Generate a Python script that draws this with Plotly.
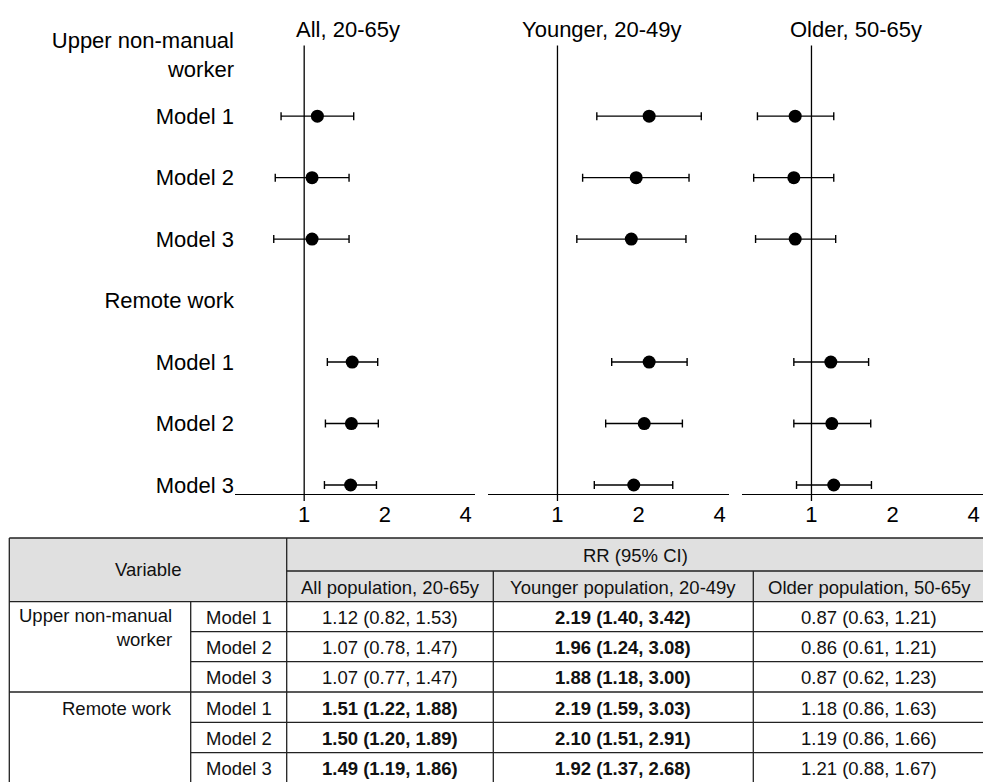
import plotly.graph_objects as go

# ---------------- data ----------------
row_labels = ["Upper non-manual<br>worker", "Model 1", "Model 2", "Model 3",
              "Remote work", "Model 1", "Model 2", "Model 3"]
groups = ["Upper non-manual<br>worker", "Remote work"]
models = ["Model 1", "Model 2", "Model 3"]
panel_titles = ["All, 20-65y", "Younger, 20-49y", "Older, 50-65y"]
table_cols = ["All population, 20-65y", "Younger population, 20-49y", "Older population, 50-65y"]
x_ticks = [1, 2, 4]

all_rr = [1.12, 1.07, 1.07, 1.51, 1.50, 1.49]
all_lo = [0.82, 0.78, 0.77, 1.22, 1.20, 1.19]
all_hi = [1.53, 1.47, 1.47, 1.88, 1.89, 1.86]

young_rr = [2.19, 1.96, 1.88, 2.19, 2.10, 1.92]
young_lo = [1.40, 1.24, 1.18, 1.59, 1.51, 1.37]
young_hi = [3.42, 3.08, 3.00, 3.03, 2.91, 2.68]

old_rr = [0.87, 0.86, 0.87, 1.18, 1.19, 1.21]
old_lo = [0.63, 0.61, 0.62, 0.86, 0.86, 0.88]
old_hi = [1.21, 1.21, 1.23, 1.63, 1.66, 1.67]

# ---------------- layout constants ----------------
W, H = 983, 782
FONT = "Liberation Sans, Arial, sans-serif"
n_rows = len(row_labels)
row_y = [n_rows - 1 - i for i in range(n_rows)]           # 7 .. 0
point_rows = [y for y, lab in zip(row_y, row_labels) if lab.startswith("Model")]

xdomains = [(235 / W, 475 / W), (488 / W, 729 / W), (742 / W, 1.0)]
xr = [-0.258, 0.637]
ydom = [(H - 494.3) / H, (H - 45.4) / H]
yr = [-0.151, n_rows - 1 + 0.151]

panels = [(all_rr, all_lo, all_hi), (young_rr, young_lo, young_hi), (old_rr, old_lo, old_hi)]

fig = go.Figure()
shapes = []
annotations = []

for k, (rr, lo, hi) in enumerate(panels):
    xa = "x" if k == 0 else f"x{k+1}"
    ya = "y" if k == 0 else f"y{k+1}"
    fig.add_trace(go.Scatter(
        x=rr, y=point_rows, mode="markers",
        marker=dict(size=13, color="black"),
        error_x=dict(type="data", symmetric=False,
                     array=[h - r for h, r in zip(hi, rr)],
                     arrayminus=[r - l for r, l in zip(rr, lo)],
                     color="black", thickness=1.4, width=4),
        xaxis=xa, yaxis=ya, showlegend=False, hoverinfo="skip"))
    xkey = "xaxis" if k == 0 else f"xaxis{k+1}"
    ykey = "yaxis" if k == 0 else f"yaxis{k+1}"
    fig.layout[xkey] = dict(
        type="log", range=xr, domain=list(xdomains[k]), anchor=ya, automargin=False,
        showline=True, linecolor="black", linewidth=1.3,
        ticks="", tickvals=x_ticks, ticktext=[str(t) for t in x_ticks],
        tickfont=dict(size=22, color="black", family=FONT),
        showgrid=False, zeroline=False, fixedrange=True)
    yd = dict(domain=ydom, range=yr, anchor=xa, showgrid=False, zeroline=False,
              showline=False, ticks="", fixedrange=True, automargin=False)
    if k == 0:
        yd.update(tickvals=row_y, ticktext=row_labels,
                  tickfont=dict(size=22, color="black", family=FONT))
    else:
        yd.update(showticklabels=False)
    fig.layout[ykey] = yd
    # reference line at RR = 1
    x1frac = (0 - xr[0]) / (xr[1] - xr[0])
    shapes.append(dict(type="line", xref=f"{xa} domain", yref=f"{ya} domain",
                       x0=x1frac, x1=x1frac, y0=-0.015, y1=1,
                       line=dict(color="black", width=1.3)))
    annotations.append(dict(text=panel_titles[k], xref=f"{xa} domain", x=0.5, xshift=-7,
                            yref="paper", y=(H - 30) / H, yanchor="middle", showarrow=False,
                            font=dict(size=22, color="black", family=FONT)))

# ---------------- table (drawn on its own hidden axes, units = px) ----------------
col_edges = [9.3, 190.7, 286.7, 493.3, 753.3, 985]
row_edges = [0, 33, 63.7, 93.7, 123.7, 154, 184.3, 214.7, 245]
fig.add_trace(go.Scatter(x=[], y=[], xaxis="x4", yaxis="y4", showlegend=False))
fig.layout["xaxis4"] = dict(domain=[0, 1], range=[0, W], visible=False, anchor="y4",
                            fixedrange=True, automargin=False)
fig.layout["yaxis4"] = dict(domain=[0, 246 / H], range=[244, -2], visible=False, anchor="x4",
                            fixedrange=True, automargin=False)

LC = "#222222"
def tline(x0, y0, x1, y1):
    shapes.append(dict(type="line", xref="x4", yref="y4", x0=x0, y0=y0, x1=x1, y1=y1,
                       line=dict(color=LC, width=1.3), layer="above"))

# header fill
shapes.append(dict(type="rect", xref="x4", yref="y4", x0=col_edges[0], x1=col_edges[-1],
                   y0=row_edges[0], y1=row_edges[2], fillcolor="#e0e0e0", line=dict(width=0),
                   layer="below"))
# horizontal lines
tline(col_edges[0], row_edges[0], col_edges[-1], row_edges[0])
tline(col_edges[2], row_edges[1], col_edges[-1], row_edges[1])
tline(col_edges[0], row_edges[2], col_edges[-1], row_edges[2])
for gi in range(len(groups)):
    base = 2 + gi * len(models)
    for mi in range(1, len(models)):
        tline(col_edges[1], row_edges[base + mi], col_edges[-1], row_edges[base + mi])
    if gi > 0:
        tline(col_edges[0], row_edges[base], col_edges[-1], row_edges[base])
tline(col_edges[0], row_edges[-1], col_edges[-1], row_edges[-1])
# vertical lines
tline(col_edges[0], row_edges[0], col_edges[0], row_edges[-1])
tline(col_edges[1], row_edges[2], col_edges[1], row_edges[-1])
tline(col_edges[2], row_edges[0], col_edges[2], row_edges[-1])
tline(col_edges[3], row_edges[1], col_edges[3], row_edges[-1])
tline(col_edges[4], row_edges[1], col_edges[4], row_edges[-1])

TF = dict(size=18.5, color="#111111", family=FONT)
def tcell(text, x, y, xanchor="center", align="center"):
    annotations.append(dict(text=text, xref="x4", yref="y4", x=x, y=y, xanchor=xanchor,
                            yanchor="middle", align=align, showarrow=False, font=TF))

mid = lambda a, b: (a + b) / 2
tcell("Variable", mid(col_edges[0], col_edges[2]), mid(row_edges[0], row_edges[2]))
tcell("RR (95% CI)", mid(col_edges[2], col_edges[-1]), mid(row_edges[0], row_edges[1]) + 1)
for c, name in enumerate(table_cols):
    tcell(name, mid(col_edges[2 + c], col_edges[3 + c]), mid(row_edges[1], row_edges[2]) + 1)

for gi, g in enumerate(groups):
    base = 2 + gi * len(models)
    gy = mid(row_edges[base], row_edges[base + 1]) + (11 if "<br>" in g else 1)
    tcell(g, 174, gy, xanchor="right", align="right")
    for mi, m in enumerate(models):
        ry = mid(row_edges[base + mi], row_edges[base + mi + 1]) + 1
        tcell(m, mid(col_edges[1], col_edges[2]), ry)
        i = gi * len(models) + mi
        for c, (rr, lo, hi) in enumerate(panels):
            s = f"{rr[i]:.2f} ({lo[i]:.2f}, {hi[i]:.2f})"
            if lo[i] > 1 or hi[i] < 1:
                s = f"<b>{s}</b>"
            tcell(s, mid(col_edges[2 + c], col_edges[3 + c]), ry)

fig.update_layout(
    width=W, height=H, margin=dict(l=0, r=0, t=0, b=0, pad=0, autoexpand=False),
    paper_bgcolor="white", plot_bgcolor="rgba(0,0,0,0)",
    font=dict(family=FONT, color="black"),
    shapes=shapes, annotations=annotations, showlegend=False)

fig.write_html("out.html", config={"displayModeBar": False},
               post_script="document.body.style.margin='0px';")
